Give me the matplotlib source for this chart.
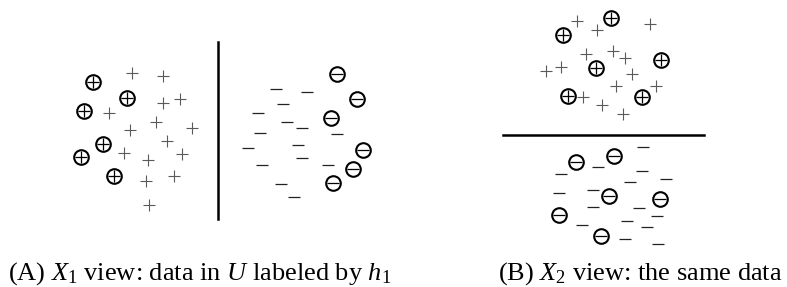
import numpy as np
import matplotlib
matplotlib.use("Agg")
import matplotlib.pyplot as plt

plt.rcParams['mathtext.fontset'] = 'custom'
plt.rcParams['mathtext.rm'] = 'Liberation Serif'
plt.rcParams['mathtext.it'] = 'Liberation Serif:italic'

# panel A (X1 view), plain +/- are unlabeled-by-h1 points, circled are labeled
a_plus_x = [131.7, 163.3, 163.3, 180, 109.3, 156, 191.7, 130, 167.3, 124, 182, 148.3, 174.3, 146, 149.3]
a_plus_y = [72.7, 76, 103.3, 99.3, 113.3, 122, 128.3, 130, 141, 152.7, 154.3, 160, 175.7, 181, 205]
a_cplus_x = [93.3, 127.3, 84, 102.7, 80.7, 114]
a_cplus_y = [82.3, 98.3, 110.7, 144, 156.7, 176]
a_minus_x = [275.7, 307.3, 282.7, 258.3, 286.7, 301.7, 260, 336.7, 247.7, 297.7, 301.7, 262.3, 327.7, 281, 294.3]
a_minus_y = [89.3, 91.7, 104, 112.7, 122, 128.3, 132.7, 134, 148.3, 145, 158.3, 165, 165, 184, 196.7]
a_cminus_x = [336.7, 356.7, 330.7, 363.3, 353.3, 332.7]
a_cminus_y = [74.3, 99, 118.3, 150, 169.3, 182.7]

# panel B (X2 view)
b_plus_x = [576.7, 597.3, 650, 585.7, 612.7, 625, 546, 561, 632.3, 615.7, 655.7, 582.7, 602.3, 622.7]
b_plus_y = [20.7, 30, 24, 54, 50.7, 57.7, 70.7, 66.7, 74, 85.7, 85.7, 97.3, 105, 114]
b_cplus_x = [610.7, 563.3, 596, 661, 567.7, 642.3]
b_cplus_y = [18.3, 35, 67.7, 60, 95.7, 96.7]
b_minus_x = [643.3, 598.3, 641.7, 561, 630, 665.7, 559, 592.7, 593.3, 639.3, 656.7, 626.7, 581.7, 646.7, 625, 658.3]
b_minus_y = [146.7, 166.7, 171, 174.3, 181.7, 179.3, 192.7, 190, 206.7, 207.7, 216, 220.7, 225, 226.7, 239, 244.3]
b_cminus_x = [576, 614.3, 609, 660, 559, 601]
b_cminus_y = [162.3, 156, 196, 199, 215, 235.7]

captions = [r"(A) $X_1$ view: data in $U$ labeled by $h_1$", r"(B) $X_2$ view: the same data"]

fig = plt.figure(figsize=(7.87, 2.87), dpi=100)
ax = fig.add_axes([0, 0, 1, 1])
ax.set_xlim(0, 787)
ax.set_ylim(287, 0)
ax.axis('off')

gray = '#5a5a5a'
for px, py in [(a_plus_x, a_plus_y), (b_plus_x, b_plus_y)]:
    ax.plot(px, py, ls='none', marker='+', ms=8.5, mew=0.8, color=gray)
for mx, my in [(a_minus_x, a_minus_y), (b_minus_x, b_minus_y)]:
    ax.plot(mx, my, ls='none', marker='_', ms=8, mew=0.9, color='#222222')

for cx, cy, inner in [(a_cplus_x, a_cplus_y, '+'), (b_cplus_x, b_cplus_y, '+'),
                      (a_cminus_x, a_cminus_y, '_'), (b_cminus_x, b_cminus_y, '_')]:
    ax.plot(cx, cy, ls='none', marker='o', ms=10.5, mfc='white', mec='black', mew=1.5)
    ax.plot(cx, cy, ls='none', marker=inner, ms=8, mew=0.9, color='black')

# separators h1 / h2
ax.plot([218.3, 218.3], [42, 219], color='black', lw=1.8)
ax.plot([503, 704], [135, 135], color='black', lw=1.8)

ax.text(8, 280, captions[0], fontsize=19, family='Liberation Serif', va='baseline', ha='left')
ax.text(498, 280, captions[1], fontsize=19, family='Liberation Serif', va='baseline', ha='left')

fig.savefig('out.png', dpi=100)
